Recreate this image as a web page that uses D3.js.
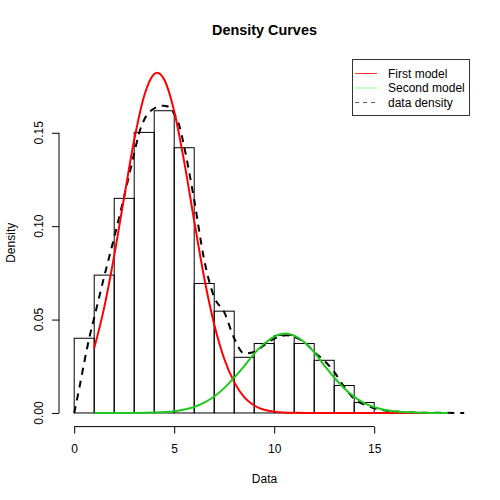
<!DOCTYPE html>
<html>
<head>
<meta charset="utf-8">
<script src="https://cdn.jsdelivr.net/npm/d3@7"></script>
<style>
    body { margin: 0; background: #fff; }
    text { font-family: 'Liberation Sans', Arial, sans-serif; }
</style>
</head>
<body>
<div id="chart"></div>
<script>

// histogram (breaks of width 1, density scale)
var binStarts = [ 0, 1, 2, 3, 4, 5, 6, 7, 8, 9, 10, 11, 12, 13, 14 ];
var binDensity = [ 0.040, 0.0738, 0.1149, 0.1502, 0.1618, 0.1420, 0.0693, 0.0545,
                   0.0298, 0.0372, 0.0415, 0.0372, 0.0282, 0.0147, 0.0056 ];

// first model (red)
var firstX = [ 1, 1.5, 2, 2.5, 3, 3.5, 4, 4.15, 4.5, 5, 5.5, 6, 6.5, 7, 7.5, 8, 8.5, 9, 9.5, 10, 11, 12, 14, 16, 18.7 ];
var firstY = [ 0.0347, 0.0564, 0.0842, 0.1156, 0.1461, 0.1698, 0.1815, 0.1822, 0.1785, 0.1615, 0.1344, 0.1029,
               0.0724, 0.0475, 0.0290, 0.0165, 0.0085, 0.0040, 0.0017, 0.0007, 0.0001, 0, 0, 0, 0 ];

// second model (green)
var secondX = [ 1, 3, 4, 5, 5.5, 6, 6.5, 7, 7.5, 8, 8.5, 9, 9.5, 10, 10.55, 11, 11.5, 12, 12.5, 13, 13.5, 14, 14.5, 15, 15.5, 16, 17, 18, 18.7 ];
var secondY = [ 0, 0.00003, 0.0002, 0.0009, 0.0018, 0.0032, 0.0055, 0.0088, 0.0133, 0.0189, 0.0251, 0.0318, 0.0370,
                0.0409, 0.0426, 0.0414, 0.0380, 0.0325, 0.0255, 0.0190, 0.0132, 0.0086, 0.0053, 0.0031, 0.0017,
                0.0009, 0.0002, 0.00003, 0 ];

// data density (dashed)
var densX = [ 0, 0.25, 0.5, 0.75, 1, 1.5, 2, 2.5, 3, 3.25, 3.5, 4, 4.45, 4.8, 5, 5.25, 5.5, 6, 6.5, 7, 7.5, 8, 8.5,
              9, 9.5, 10, 10.6, 11, 11.5, 12, 12.5, 13, 13.5, 14, 14.5, 15, 16, 17, 18, 19.5 ];
var densY = [ 0, 0.013, 0.027, 0.040, 0.051, 0.073, 0.094, 0.116, 0.139, 0.150, 0.157, 0.163, 0.1645, 0.1635, 0.160,
              0.154, 0.1425, 0.114, 0.082, 0.062, 0.054, 0.040, 0.0318, 0.0327, 0.0363, 0.0398, 0.0416, 0.0407,
              0.038, 0.0327, 0.028, 0.022, 0.014, 0.0075, 0.0045, 0.0025, 0.0008, 0.0002, 0.0001, 0 ];

var xTicks = [ 0, 5, 10, 15 ];
var yTicks = [ 0, 0.05, 0.10, 0.15 ];

var legendLabels = [ 'First model', 'Second model', 'data density' ];
var legendColors = [ '#ff3030', '#88ff88', '#666666' ];

var width = 500,
    height = 500;

var svg = d3.select('#chart').append('svg')
    .attr('width', width)
    .attr('height', height);

svg.append('rect')
    .attr('width', width)
    .attr('height', height)
    .style('fill', '#fff');

var x = d3.scaleLinear()
    .domain([ -0.76, 19.79 ])
    .range([ 59, 470 ]);

var y = d3.scaleLinear()
    .domain([ -0.0073, 0.1895 ])
    .range([ 426.6, 59 ]);

// bars

svg.selectAll('.bar')
    .data( binStarts )
    .enter().append('rect')
    .attr('class', 'bar')
    .attr('x', function ( d ) { return x( d ) })
    .attr('y', function ( d, i ) { return y( binDensity[ i ] ) })
    .attr('width', function ( d ) { return x( d + 1 ) - x( d ) })
    .attr('height', function ( d, i ) { return y( 0 ) - y( binDensity[ i ] ) })
    .style('fill', 'none')
    .style('stroke', '#000')
    .style('stroke-width', 1);

// curves

var line = d3.line()
    .x( function ( d ) { return x( d[0] ) })
    .y( function ( d ) { return y( d[1] ) })
    .curve( d3.curveMonotoneX );

svg.append('path')
    .attr('d', line( d3.zip( densX, densY ) ))
    .style('fill', 'none')
    .style('stroke', '#000')
    .style('stroke-width', 2)
    .style('stroke-dasharray', '7,6');

svg.append('path')
    .attr('d', line( d3.zip( firstX, firstY ) ))
    .style('fill', 'none')
    .style('stroke', '#ff0000')
    .style('stroke-width', 2);

svg.append('path')
    .attr('d', line( d3.zip( secondX, secondY ) ))
    .style('fill', 'none')
    .style('stroke', '#1ec81e')
    .style('stroke-width', 2);

// axes

var xAxis = svg.append('g')
    .attr('transform', 'translate(0,426.6)')
    .call( d3.axisBottom( x ).tickValues( xTicks ).tickSize( 7 ).tickPadding( 11 ).tickFormat( d3.format('d') ) );

xAxis.select('.domain')
    .attr('d', 'M' + x( xTicks[0] ) + ',0H' + x( xTicks[ xTicks.length - 1 ] ));

var yAxis = svg.append('g')
    .attr('transform', 'translate(59,0)')
    .call( d3.axisLeft( y ).tickValues( yTicks ).tickSize( 7 ).tickFormat('') );

yAxis.select('.domain')
    .attr('d', 'M0,' + y( yTicks[0] ) + 'V' + y( yTicks[ yTicks.length - 1 ] ));

svg.selectAll('path.domain, .tick line')
    .style('stroke', '#000');

xAxis.selectAll('text')
    .style('font-size', '12px')
    .style('font-family', "'Liberation Sans', Arial, sans-serif")
    .style('fill', '#000');

svg.selectAll('.ylab')
    .data( yTicks )
    .enter().append('text')
    .attr('class', 'ylab')
    .attr('transform', function ( d ) { return 'translate(43,' + y( d ) + ') rotate(-90)' })
    .attr('text-anchor', 'middle')
    .style('font-size', '12px')
    .text( d3.format('.2f') );

// titles

svg.append('text')
    .attr('x', 264.5)
    .attr('y', 35)
    .attr('text-anchor', 'middle')
    .style('font-size', '14.4px')
    .style('font-weight', 'bold')
    .text('Density Curves');

svg.append('text')
    .attr('x', 264.5)
    .attr('y', 483)
    .attr('text-anchor', 'middle')
    .style('font-size', '12px')
    .text('Data');

svg.append('text')
    .attr('transform', 'translate(15,242.8) rotate(-90)')
    .attr('text-anchor', 'middle')
    .style('font-size', '12px')
    .text('Density');

// legend

var legend = svg.append('g');

legend.append('rect')
    .attr('x', 352.5)
    .attr('y', 59.5)
    .attr('width', 117)
    .attr('height', 56)
    .style('fill', '#fff')
    .style('stroke', '#333')
    .style('stroke-width', 1);

var item = legend.selectAll('.item')
    .data( legendLabels )
    .enter().append('g')
    .attr('class', 'item')
    .attr('transform', function ( d, i ) { return 'translate(0,' + ( 73.5 + i * 14.5 ) + ')' });

item.append('line')
    .attr('x1', 355)
    .attr('x2', 377)
    .style('stroke', function ( d, i ) { return legendColors[ i ] })
    .style('stroke-width', 1)
    .style('stroke-dasharray', function ( d, i ) { return i === 2 ? '4,4' : null });

item.append('text')
    .attr('x', 388)
    .attr('dy', '0.35em')
    .style('font-size', '12px')
    .text( function ( d ) { return d });

</script>
</body>
</html>
